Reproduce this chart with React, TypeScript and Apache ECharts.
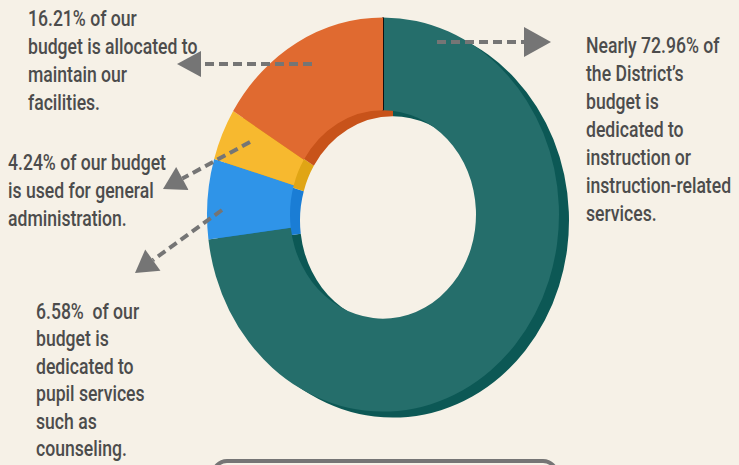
import React, { useEffect, useRef } from "react";
import * as echarts from "echarts";

// ---- data ----
const categories = [
  "Instruction and instruction-related services",
  "Pupil services",
  "General administration",
  "Facilities maintenance",
];
const shares = [72.96, 6.58, 4.24, 16.21];
const faceColors = ["#256e6b", "#2f94e8", "#f7b92f", "#e06a30"];
const sideColors = ["#0c5855", "#1a7dd5", "#e0a515", "#c8531a"];

const noteTexts = [
  "16.21% of our\nbudget is allocated to\nmaintain our\nfacilities.",
  "4.24% of our budget\nis used for general\nadministration.",
  "6.58%  of our\nbudget is\ndedicated to\npupil services\nsuch as\ncounseling.",
  "Nearly 72.96% of\nthe District\u2019s\nbudget is\ndedicated to\ninstruction or\ninstruction-related\nservices.",
];

// ---- layout (positions / styles) ----
const CX = 383;
const CY = 214.5;
const R = 176;
const R0 = 93;
const SY = 1.12;
const DEPTH_X = 10;
const DEPTH_Y = 6;
const FONT = 'Roboto, "Noto Sans", sans-serif';
const TEXT_SCALE_X = 0.8;
const TEXT_COLOR = "#4c4c4c";
const ARROW_COLOR = "#757575";

const notePos = [
  { x: 28, y: 5, lh: 28 },
  { x: 8, y: 149, lh: 28 },
  { x: 36, y: 298, lh: 27.5 },
  { x: 586, y: 32, lh: 28 },
];

const arrowSpecs = [
  { x1: 437, y1: 42, tx: 551, ty: 42, len: 27, half: 15 },
  { x1: 312, y1: 64, tx: 177, ty: 64, len: 24, half: 13 },
  { x1: 250, y1: 142, tx: 163, ty: 189, len: 22, half: 13 },
  { x1: 222, y1: 210, tx: 135, ty: 273, len: 22, half: 13 },
];

function makeRender(colors: string[], dx: number, dy: number, seam: boolean) {
  const total = shares.reduce((a, b) => a + b, 0);
  return (params: any, api: any) => {
    const i = params.dataIndex;
    const before = shares.slice(0, i).reduce((a, b) => a + b, 0);
    const v = api.value(0);
    const a0 = -Math.PI / 2 + (2 * Math.PI * before) / total;
    const a1 = a0 + (2 * Math.PI * v) / total;
    const children: any[] = [
      {
        type: "sector",
        shape: { cx: 0, cy: 0, r: R, r0: R0, startAngle: a0, endAngle: a1, clockwise: true },
        style: { fill: colors[i] },
      },
    ];
    if (seam && i === 0) {
      children.push({
        type: "line",
        shape: { x1: 0, y1: -R0, x2: 0, y2: -R },
        style: { stroke: "#111", lineWidth: 2 },
      });
    }
    return { type: "group", x: CX + dx, y: CY + dy, scaleY: SY, children };
  };
}

function arrow(s: any) {
  const dx = s.tx - s.x1;
  const dy = s.ty - s.y1;
  const d = Math.hypot(dx, dy);
  const ux = dx / d;
  const uy = dy / d;
  const bx = s.tx - ux * s.len;
  const by = s.ty - uy * s.len;
  const px = -uy;
  const py = ux;
  return [
    {
      type: "line",
      z: 100,
      shape: { x1: s.x1, y1: s.y1, x2: bx, y2: by },
      style: { stroke: ARROW_COLOR, lineWidth: 4, lineDash: [9, 5] },
    },
    {
      type: "polygon",
      z: 100,
      shape: {
        points: [
          [s.tx, s.ty],
          [bx + px * s.half, by + py * s.half],
          [bx - px * s.half, by - py * s.half],
        ],
      },
      style: { fill: ARROW_COLOR },
    },
  ];
}

export default function App() {
  const ref = useRef<HTMLDivElement>(null);
  useEffect(() => {
    if (!ref.current) return;
    const chart = echarts.init(ref.current, undefined, { renderer: "svg" });
    const data = shares.map((v, i) => ({ value: v, name: categories[i] }));
    const graphics: any[] = [];
    noteTexts.forEach((t, i) => {
      graphics.push({
        type: "text",
        z: 100,
        x: notePos[i].x,
        y: notePos[i].y,
        scaleX: TEXT_SCALE_X,
        style: {
          text: t,
          fontFamily: FONT,
          fontSize: 22,
          fontWeight: 500,
          fill: TEXT_COLOR,
          lineHeight: notePos[i].lh,
        },
      });
    });
    arrowSpecs.forEach((s) => graphics.push(...arrow(s)));
    graphics.push({
      type: "rect",
      z: 100,
      shape: { x: 213, y: 461, width: 344, height: 40, r: 14 },
      style: { fill: "none", stroke: ARROW_COLOR, lineWidth: 4 },
    });
    chart.setOption({
      animation: false,
      backgroundColor: "#f6f1e7",
      series: [
        {
          type: "custom",
          coordinateSystem: "none",
          silent: true,
          data,
          renderItem: makeRender(sideColors, DEPTH_X, DEPTH_Y, false),
        },
        {
          type: "custom",
          coordinateSystem: "none",
          silent: true,
          data,
          renderItem: makeRender(faceColors, 0, 0, true),
        },
      ],
      graphic: graphics,
    });
    return () => chart.dispose();
  }, []);
  return (
    <div
      ref={ref}
      style={{ position: "fixed", left: 0, top: 0, width: 739, height: 465 }}
    />
  );
}
